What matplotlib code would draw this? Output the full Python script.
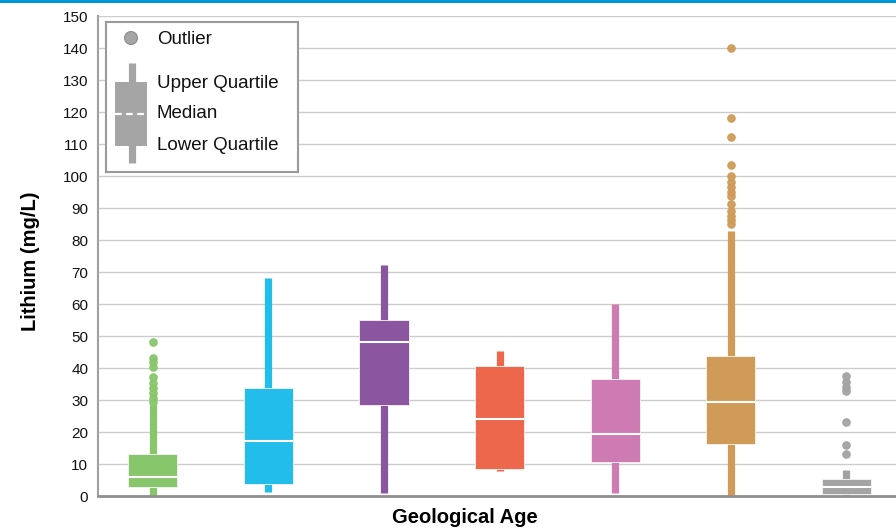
import matplotlib
matplotlib.use("Agg")
import matplotlib.pyplot as plt
from matplotlib.patches import Rectangle, Circle
from matplotlib.lines import Line2D

plt.rcParams["font.family"] = ["Liberation Sans", "DejaVu Sans"]

# box statistics (mg/L)
ages = ["A", "B", "C", "D", "E", "F", "G"]
colors = ["#88c66b", "#22bdea", "#8c55a0", "#ec674c", "#cf7bb3", "#d09b57", "#a3a3a3"]
q1 = [2.8, 3.8, 28.3, 8.5, 10.6, 16.3, 0.7]
median = [5.8, 17.2, 48.0, 24.2, 19.4, 29.3, 2.8]
q3 = [13.2, 33.6, 55.0, 40.5, 36.5, 43.8, 5.2]
whis_lo = [0.0, 1.2, 0.8, 7.9, 1.0, 0.0, 0.0]
whis_hi = [28.5, 68.2, 72.3, 45.2, 60.0, 82.9, 8.0]
outliers = [
    [48.0, 43.2, 42.0, 40.4, 37.1, 35.4, 33.9, 32.3, 30.7, 29.4],
    [],
    [],
    [],
    [],
    [140.0, 118.0, 112.1, 103.4, 100.1, 98.2, 96.6, 95.0, 93.6, 91.3, 89.2, 87.6, 86.3, 85.0],
    [37.4, 35.6, 34.2, 32.8, 23.2, 15.9, 13.1],
]
yticks = list(range(0, 151, 10))

fig = plt.figure(figsize=(8.96, 5.31), dpi=100)
ax = fig.add_axes([98 / 896, 35 / 531, 1 - 98 / 896, 480 / 531])

# blue band on top
fig.add_artist(Rectangle((0, 1 - 3 / 531), 1, 3 / 531, transform=fig.transFigure,
                         color="#0096d6", lw=0))

stats = []
for i in range(len(ages)):
    stats.append(dict(med=median[i], q1=q1[i], q3=q3[i], whislo=whis_lo[i],
                      whishi=whis_hi[i], fliers=outliers[i], label=ages[i]))

bp = ax.bxp(stats, positions=range(1, len(ages) + 1), widths=0.425,
            patch_artist=True, showcaps=False, showfliers=True)
for i, c in enumerate(colors):
    box = bp["boxes"][i]
    box.set_facecolor(c)
    box.set_edgecolor("#f4f4f4")
    box.set_linewidth(0.6)
    box.set_zorder(3)
    for w in bp["whiskers"][2 * i:2 * i + 2]:
        w.set_color(c)
        w.set_linewidth(5.2)
        w.set_solid_capstyle("butt")
        w.set_zorder(2)
    m = bp["medians"][i]
    m.set_color("white")
    m.set_linewidth(1.5)
    m.set_zorder(4)
    f = bp["fliers"][i]
    f.set_marker("o")
    f.set_markerfacecolor(c)
    f.set_markeredgecolor(c)
    f.set_markersize(5.2)
    f.set_alpha(0.95)

ax.set_xlim(0.525, 7.43)
ax.set_ylim(0, 150)
ax.set_yticks(yticks)
ax.tick_params(axis="y", length=0, pad=7, labelsize=11, colors="#111111")
ax.set_xticks([])
ax.grid(axis="y", color="#cccccc", linewidth=1.0)
ax.set_axisbelow(True)
for s in ["top", "right"]:
    ax.spines[s].set_visible(False)
ax.spines["left"].set_color("#a0a0a0")
ax.spines["left"].set_linewidth(1.5)
ax.spines["bottom"].set_color("#8f8f8f")
ax.spines["bottom"].set_linewidth(2.0)

ax.set_ylabel("Lithium (mg/L)", fontsize=14.5, fontweight="bold")
ax.set_xlabel("Geological Age", fontsize=14.5, fontweight="bold")
ax.yaxis.set_label_coords(-0.073, 0.49)
ax.xaxis.set_label_coords(0.46, -0.026)

# custom legend drawn in an inset
lg = fig.add_axes([106 / 896, (531 - 172) / 531, 192 / 896, 150 / 531])
lg.set_xlim(0, 192)
lg.set_ylim(150, 0)
lg.set_xticks([])
lg.set_yticks([])
for s in lg.spines.values():
    s.set_color("#9a9a9a")
    s.set_linewidth(1.5)
gray = "#a5a5a6"
lg.add_patch(Circle((25, 16), 6.5, color=gray, ec="#8e8e8e", lw=0.8))
lg.add_line(Line2D([25.5, 25.5], [41, 141], color=gray, lw=5.2, solid_capstyle="butt"))
lg.add_patch(Rectangle((9, 60), 32, 64, color=gray, lw=0))
lg.add_line(Line2D([9, 41], [92, 92], color="white", lw=1.6, dashes=(3, 2)))
legend_labels = [("Outlier", 17), ("Upper Quartile", 61), ("Median", 92), ("Lower Quartile", 123)]
for txt, yy in legend_labels:
    lg.text(51, yy, txt, fontsize=13.5, va="center", ha="left", color="#111111")

fig.savefig("out.png", dpi=100)
